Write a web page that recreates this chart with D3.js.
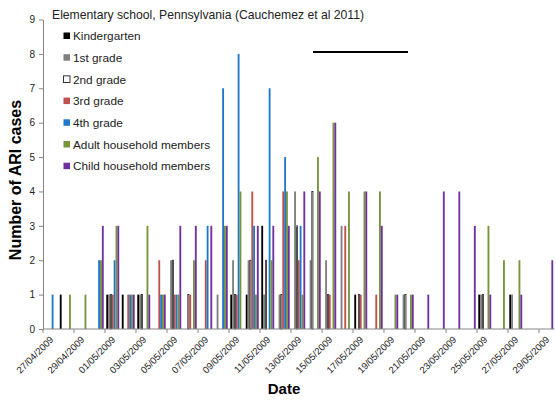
<!DOCTYPE html>
<html>
<head>
<meta charset="utf-8">
<script src="https://cdn.jsdelivr.net/npm/d3@7"></script>
<style>
  body { margin: 0; background: #fff; }
  text { font-family: "Liberation Sans", Arial, sans-serif; }
</style>
</head>
<body>
<div id="chart"></div>
<script>
// dates, one per category (27/04/2009 .. 29/05/2009)
const dates = ["27/04/2009","28/04/2009","29/04/2009","30/04/2009","01/05/2009","02/05/2009",
  "03/05/2009","04/05/2009","05/05/2009","06/05/2009","07/05/2009","08/05/2009","09/05/2009",
  "10/05/2009","11/05/2009","12/05/2009","13/05/2009","14/05/2009","15/05/2009","16/05/2009",
  "17/05/2009","18/05/2009","19/05/2009","20/05/2009","21/05/2009","22/05/2009","23/05/2009",
  "24/05/2009","25/05/2009","26/05/2009","27/05/2009","28/05/2009","29/05/2009"];

const seriesNames = ["Kindergarten", "1st grade", "2nd grade", "3rd grade", "4th grade",
  "Adult household members", "Child household members"];

// ARI cases per day
const kindergarten = [0,1,0,0,1,1,1,0,0,0,0,0,1,1,3,0,0,0,0,0,1,0,0,0,0,0,0,0,1,0,1,0,0];
const grade1       = [0,0,0,0,1,0,1,0,2,0,0,1,2,2,1,1,4,2,2,3,0,0,0,1,0,0,0,0,1,0,1,0,0];
const grade2       = [0,0,0,0,1,0,1,0,2,1,0,0,1,2,2,1,3,4,1,0,1,0,0,1,0,0,0,0,1,0,0,0,0];
const grade3       = [0,0,0,0,1,1,0,2,1,1,2,0,1,4,0,4,2,0,1,3,1,1,0,0,0,0,0,0,0,0,0,0,0];
const grade4       = [1,0,0,2,2,1,0,1,1,0,3,7,8,3,7,5,3,0,0,0,0,0,0,0,0,0,0,0,0,0,0,0,0];
const adults       = [0,1,1,2,3,1,3,1,1,2,0,3,4,1,2,4,1,5,6,4,4,4,1,1,0,0,0,0,3,2,2,0,0];
const children     = [0,0,0,3,3,1,1,1,3,3,3,3,0,3,3,3,4,4,6,0,4,3,1,1,1,4,4,3,1,0,1,0,2];

const yTicks = [0,1,2,3,4,5,6,7,8,9];

const seriesValues = [kindergarten, grade1, grade2, grade3, grade4, adults, children];
const fills   = ["#000000", "#7f7f7f", "#ffffff", "#c0504d", "#1f78c8", "#77933c", "#7030a0"];
const strokes = [null, null, "#000000", null, null, null, null];

const W = 556, H = 401;
const plotLeft = 43, plotRight = 554.5, plotTop = 19.5, plotBottom = 329;

const svg = d3.select("#chart").append("svg")
  .attr("width", W)
  .attr("height", H);

const gapP = 0.165;
const x0 = d3.scaleBand()
  .domain(dates)
  .range([plotLeft, plotRight])
  .paddingInner(gapP)
  .paddingOuter(gapP / 2);

const x1 = d3.scaleBand()
  .domain(d3.range(seriesNames.length))
  .range([0, x0.bandwidth()]);

const y = d3.scaleLinear()
  .domain([0, 9])
  .range([plotBottom, plotTop]);

// bars
const groups = svg.selectAll(".day")
  .data(dates)
  .enter().append("g")
  .attr("class", "day")
  .attr("transform", d => "translate(" + x0(d) + ",0)");

groups.selectAll("rect")
  .data((d, i) => seriesValues.map((vals, s) => ({ s: s, value: vals[i] })).filter(e => e.value > 0))
  .enter().append("rect")
  .attr("x", d => x1(d.s) + (strokes[d.s] ? 0.35 : 0))
  .attr("y", d => y(d.value))
  .attr("width", d => x1.bandwidth() - (strokes[d.s] ? 0.7 : 0))
  .attr("height", d => y(0) - y(d.value))
  .style("fill", d => fills[d.s])
  .style("stroke", d => strokes[d.s] || "none")
  .style("stroke-width", 0.7);

// y axis
const yAxis = svg.append("g")
  .attr("transform", "translate(" + plotLeft + ",0)")
  .call(d3.axisLeft(y).tickValues(yTicks).tickSize(4).tickSizeOuter(0));
yAxis.select(".domain").attr("stroke", "#868686");
yAxis.selectAll(".tick line").attr("stroke", "#868686");
yAxis.selectAll(".tick text")
  .attr("x", -8)
  .style("font-size", "10px")
  .style("fill", "#222");

// x axis line
const xAxis = svg.append("g")
  .attr("transform", "translate(0," + plotBottom + ")");
xAxis.append("line")
  .attr("x1", plotLeft).attr("x2", plotRight)
  .attr("stroke", "#868686");

const labelDates = dates.filter((d, i) => i % 2 === 0);
const outer = x0.step() * x0.paddingOuter();

xAxis.selectAll(".xtick")
  .data(labelDates)
  .enter().append("line")
  .attr("x1", d => x0(d) - outer)
  .attr("x2", d => x0(d) - outer)
  .attr("y1", 0).attr("y2", 4)
  .attr("stroke", "#868686");

xAxis.selectAll(".xlab")
  .data(labelDates)
  .enter().append("text")
  .attr("transform", d => "translate(" + (x0(d) + x0.bandwidth() / 2 + 1) + ",9) rotate(-45)")
  .attr("text-anchor", "end")
  .attr("dy", "0.35em")
  .style("font-size", "9.5px")
  .style("fill", "#222")
  .text(d => d);

// axis titles
svg.append("text")
  .attr("x", 284).attr("y", 394)
  .attr("text-anchor", "middle")
  .style("font-size", "15px")
  .style("font-weight", "bold")
  .text("Date");

svg.append("text")
  .attr("transform", "translate(21,180) rotate(-90)")
  .attr("text-anchor", "middle")
  .style("font-size", "16px")
  .style("font-weight", "bold")
  .text("Number of ARI cases");

// chart title
svg.append("text")
  .attr("x", 52).attr("y", 18.5)
  .style("font-size", "12.2px")
  .style("fill", "#222")
  .text("Elementary school, Pennsylvania (Cauchemez et al 2011)");

// legend
const legend = svg.selectAll(".leg")
  .data(seriesNames)
  .enter().append("g")
  .attr("transform", (d, i) => "translate(63," + (36 + i * 21.7) + ")");

legend.append("rect")
  .attr("x", 0.5).attr("y", -3.5)
  .attr("width", 6.5).attr("height", 6.5)
  .style("fill", (d, i) => fills[i])
  .style("stroke", (d, i) => strokes[i] || "none")
  .style("stroke-width", 0.8);

legend.append("text")
  .attr("x", 10).attr("y", 0)
  .attr("dy", "0.35em")
  .style("font-size", "11.8px")
  .style("fill", "#222")
  .text(d => d);

// stray black line in the original figure
svg.append("line")
  .attr("x1", 313).attr("x2", 408)
  .attr("y1", 52).attr("y2", 52)
  .attr("stroke", "#000")
  .attr("stroke-width", 2);
</script>
</body>
</html>
